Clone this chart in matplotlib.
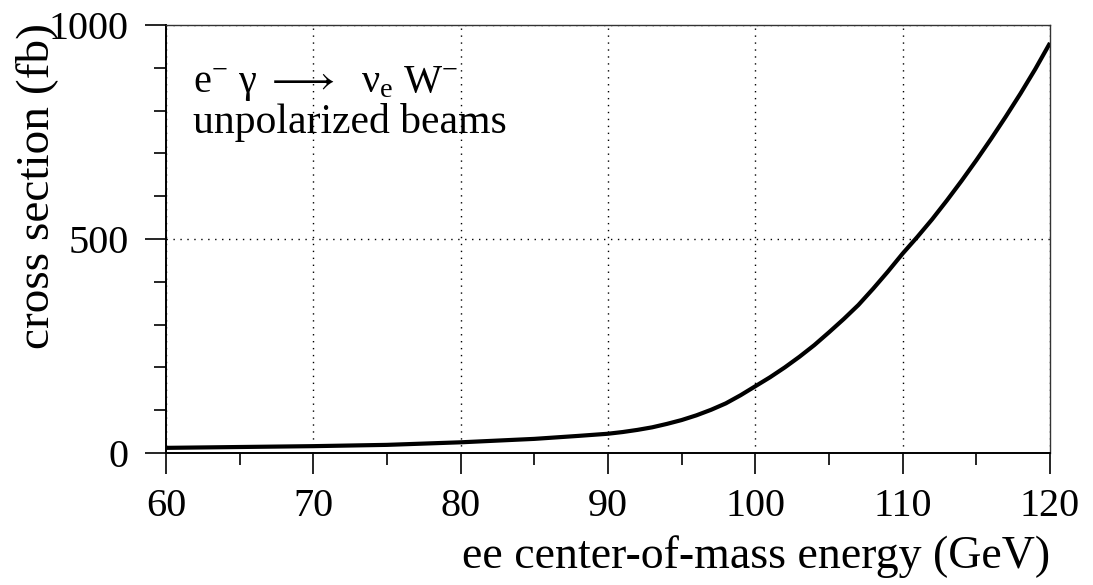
import matplotlib
matplotlib.use("Agg")
import matplotlib.pyplot as plt
from matplotlib.ticker import MultipleLocator

# values
energy_gev = [60, 65, 70, 75, 80, 85, 88, 90, 91, 92, 93, 94, 95, 96, 97, 98, 99, 100,
              101, 102, 103, 104, 105, 106, 107, 108, 109, 110,
              111, 112, 113, 114, 115, 116, 117, 118, 119, 120]
xsec_fb = [12, 14, 16, 19, 25, 33, 40, 45, 49, 54, 60, 68, 77, 88, 101, 116, 135, 156,
           177, 200, 225, 252, 282, 313, 346, 384, 424, 466,
           505, 546, 590, 636, 684, 734, 786, 840, 897, 958]

x_ticks = [60, 70, 80, 90, 100, 110, 120]
y_ticks = [0, 500, 1000]

plt.rcParams["font.family"] = ["Liberation Serif", "DejaVu Serif"]
plt.rcParams["mathtext.fontset"] = "custom"
plt.rcParams["mathtext.rm"] = "Liberation Serif"
plt.rcParams["mathtext.it"] = "Liberation Serif:italic"

fig = plt.figure(figsize=(10.93, 5.85), dpi=100)
W, H = 1093, 585
ax = fig.add_axes([166 / W, 1 - 453 / H, (1050 - 166) / W, (453 - 25) / H])

ax.plot(energy_gev, xsec_fb, color="black", lw=3.0, solid_capstyle="butt",
        solid_joinstyle="round")

ax.set_xlim(60, 120)
ax.set_ylim(0, 1000)
ax.set_xticks(x_ticks)
ax.set_yticks(y_ticks)
ax.xaxis.set_minor_locator(MultipleLocator(5))
ax.yaxis.set_minor_locator(MultipleLocator(100))
ax.tick_params(which="major", direction="out", length=15, width=1.2,
               labelsize=29, pad=10)
ax.tick_params(which="minor", direction="out", length=8.5, width=1.2)
ax.tick_params(axis="y", which="major", pad=12)

ax.grid(True, which="major", color="black", linestyle=(0, (1, 4)), lw=1.0)

for side in ["left", "bottom"]:
    ax.spines[side].set_linewidth(1.4)
for side in ["top", "right"]:
    ax.spines[side].set_linewidth(1.0)
    ax.spines[side].set_color("#333333")

# axis labels
fig.text(1050 / W, 1 - 568 / H, "ee center-of-mass energy (GeV)",
         ha="right", va="baseline", fontsize=33)
fig.text(37 / W, 1 - 186 / H, "cross section (fb)", rotation=90,
         ha="center", va="center", fontsize=34)

# process label inside the plot
ax.text(193 / W, 1 - 92 / H, "e$^{-}$ γ $\\longrightarrow$  ν$_{\\mathrm{e}}$ W$^{-}$",
        transform=fig.transFigure, ha="left", va="baseline", fontsize=29)
ax.text(193 / W, 1 - 133 / H, "unpolarized beams",
        transform=fig.transFigure, ha="left", va="baseline", fontsize=30)

fig.savefig("out.png", dpi=100)
